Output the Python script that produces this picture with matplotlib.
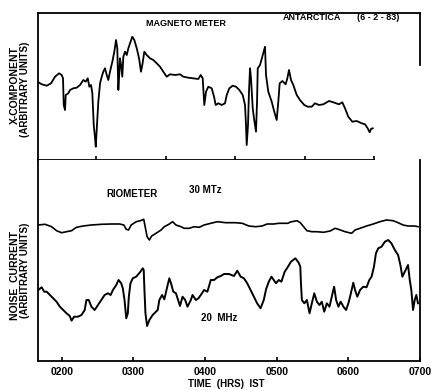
import matplotlib
matplotlib.use("Agg")
import matplotlib.pyplot as plt
from matplotlib import font_manager

# magnetometer X-component (time in hours IST, arbitrary units)
mag_time = [0.165, 0.219, 0.291, 0.353, 0.410, 0.468, 0.506, 0.525, 0.535, 0.554,
            0.564, 0.601, 0.626, 0.673, 0.722, 0.770, 0.817, 0.852, 0.881, 0.904,
            0.928, 0.947, 0.967, 0.986, 0.996, 1.014, 1.033, 1.058, 1.082, 1.105,
            1.129, 1.154, 1.177, 1.201, 1.235, 1.263, 1.288, 1.306, 1.321, 1.331,
            1.345, 1.360, 1.378, 1.393, 1.417, 1.442, 1.465, 1.489, 1.522, 1.551,
            1.586, 1.619, 1.647, 1.666, 1.695, 1.729, 1.777, 1.824, 1.873, 1.921,
            1.968, 2.017, 2.065, 2.137, 2.209, 2.256, 2.328, 2.400, 2.472, 2.506,
            2.535, 2.558, 2.583, 2.616, 2.665, 2.698, 2.722, 2.760, 2.809, 2.856,
            2.881, 2.918, 2.967, 3.014, 3.062, 3.111, 3.144, 3.158, 3.168, 3.187,
            3.201, 3.216, 3.230, 3.255, 3.273, 3.302, 3.317, 3.327, 3.360, 3.399,
            3.432, 3.446, 3.479, 3.528, 3.565, 3.600, 3.623, 3.643, 3.681, 3.729,
            3.753, 3.777, 3.806, 3.839, 3.888, 3.935, 3.997, 4.046, 4.104, 4.151,
            4.209, 4.271, 4.353, 4.414, 4.496, 4.544, 4.583, 4.630, 4.688, 4.751,
            4.823, 4.871, 4.909, 4.938, 4.957, 4.981]
mag_x = [78, 75.7, 74.3, 76.7, 83.3, 86.7, 85, 81.7, 55, 50,
         65, 66.7, 70, 71.7, 72.3, 75, 80, 78.3, 81.7, 73.3,
         75, 66.7, 35, 21.7, 13.3, 35, 58.3, 76.7, 83.3, 88.3,
         91.7, 85, 80, 88.3, 98.3, 108.3, 120, 111.7, 70, 81.7,
         101.7, 95, 83.3, 103.3, 108.3, 105, 111.7, 116.7, 123.3, 120,
         111.7, 101.7, 88.3, 95, 108.3, 105, 101.7, 100, 96.7, 93.3,
         88.3, 83.3, 85.7, 85, 85.7, 83.3, 82.3, 81.7, 81, 85,
         81.7, 55, 68.3, 73.3, 71.7, 63.3, 55, 56.7, 55, 56.7,
         65, 71.7, 74.3, 73.3, 70, 65, 55, 35, 15, 35,
         68.3, 91.7, 81.7, 51.7, 41.7, 28.3, 58.3, 91.7, 95, 105,
         113.3, 85, 68.3, 58.3, 48.3, 40, 58.3, 76.7, 79, 75.7,
         81.7, 90, 80, 75, 65, 60, 55, 53.3, 53.3, 56.7,
         55, 55.7, 59, 57.7, 55.7, 57.7, 51.7, 43.3, 38.3, 39,
         36.7, 35.7, 31.7, 27.7, 31, 31.7]

# riometer noise current, 30 MHz
rio30_time = [1.667, 1.764, 1.857, 1.926, 1.996, 2.065, 2.135, 2.204, 2.296, 2.413,
              2.551, 2.690, 2.806, 2.865, 2.899, 2.931, 2.968, 3.038, 3.097, 3.143,
              3.163, 3.190, 3.222, 3.254, 3.315, 3.385, 3.431, 3.500, 3.546, 3.593,
              3.663, 3.708, 3.778, 3.847, 3.917, 3.986, 4.079, 4.171, 4.288, 4.426,
              4.518, 4.611, 4.704, 4.796, 4.865, 4.958, 5.028, 5.157, 5.190, 5.282,
              5.329, 5.375, 5.421, 5.490, 5.560, 5.653, 5.746, 5.815, 5.861, 5.954,
              6.046, 6.093, 6.163, 6.254, 6.347, 6.440, 6.532, 6.625, 6.694, 6.764,
              6.833, 6.926, 6.972]
rio30 = [136, 136.7, 134.3, 130.3, 128.3, 129.3, 130.3, 133.7, 135, 136,
         136.7, 137, 137, 136, 131.7, 131, 136, 139.3, 140.3, 141.7,
         134.3, 124.3, 121, 125, 127.7, 131, 134.3, 137, 139.3, 136,
         134.3, 132.7, 132.7, 134.3, 133.7, 136, 137.7, 139.3, 138.3, 138.3,
         137.7, 135, 134.3, 135, 137, 137, 137.7, 137.7, 139, 140.3,
         138.3, 134.3, 130.3, 129.3, 129.3, 128.7, 130, 132.7, 131.7, 129.3,
         127.7, 131, 132.7, 135, 137, 139.3, 141, 140.3, 138.3, 136,
         135, 135, 134.3]

# riometer noise current, 20 MHz
rio20_time = [1.671, 1.718, 1.754, 1.788, 1.833, 1.879, 1.926, 1.972, 2.018, 2.065,
              2.111, 2.135, 2.171, 2.226, 2.274, 2.319, 2.343, 2.375, 2.413, 2.458,
              2.504, 2.551, 2.597, 2.643, 2.681, 2.713, 2.760, 2.792, 2.829, 2.851,
              2.875, 2.899, 2.921, 2.935, 2.958, 2.990, 3.038, 3.097, 3.129, 3.143,
              3.153, 3.167, 3.190, 3.222, 3.268, 3.338, 3.361, 3.399, 3.431, 3.463,
              3.500, 3.524, 3.556, 3.593, 3.629, 3.649, 3.685, 3.722, 3.754, 3.801,
              3.824, 3.871, 3.907, 3.940, 3.986, 4.032, 4.079, 4.125, 4.171, 4.218,
              4.264, 4.333, 4.403, 4.449, 4.496, 4.542, 4.588, 4.635, 4.681, 4.726,
              4.774, 4.819, 4.851, 4.889, 4.926, 4.958, 4.990, 5.028, 5.065, 5.111,
              5.143, 5.199, 5.260, 5.306, 5.329, 5.338, 5.351, 5.385, 5.421, 5.458,
              5.490, 5.524, 5.560, 5.597, 5.629, 5.663, 5.699, 5.736, 5.768, 5.801,
              5.829, 5.861, 5.893, 5.931, 5.968, 6.000, 6.024, 6.069, 6.093, 6.125,
              6.163, 6.208, 6.254, 6.292, 6.324, 6.357, 6.385, 6.417, 6.463, 6.510,
              6.556, 6.601, 6.649, 6.694, 6.726, 6.754, 6.788, 6.833, 6.857, 6.879,
              6.903, 6.926, 6.949, 6.972]
rio20 = [71, 73.7, 69.3, 69.3, 66, 62.7, 59.3, 54.3, 51, 47.7,
         45, 40.3, 44.3, 44.3, 46, 51, 61, 61, 54.3, 51,
         56, 61, 66, 67.7, 66, 71, 76, 81, 77.7, 72.7,
         61, 42.7, 47.7, 64.3, 77.7, 82.7, 84.3, 89.3, 92.7, 91,
         71, 47.7, 35, 41, 46, 51, 61, 66, 61.7, 71.7,
         82.7, 77.7, 69.3, 67.7, 59.3, 55, 64.3, 61, 54.3, 61,
         66, 61, 62.7, 66, 71, 69.3, 81, 81, 83.7, 85,
         87, 87, 85, 90.3, 84.3, 82.7, 77.7, 71, 64.3, 57.7,
         52.7, 61, 71.7, 79.3, 84.3, 81, 77.7, 81, 79.3, 89.3,
         92.7, 99.3, 102.7, 98.3, 94.3, 77.7, 61, 57.7, 61, 47.7,
         57.7, 67.7, 59.3, 56, 59.3, 49.3, 57.7, 54.3, 64.3, 74.3,
         61, 54.3, 59.3, 54.3, 51, 57.7, 64.3, 78.3, 71, 64.3,
         71, 74.3, 73.7, 81, 84.3, 94.3, 107.7, 112.7, 114.3, 119.3,
         121, 117.7, 111, 106, 96, 84.3, 89.3, 96, 81, 71,
         51, 61, 66, 57.7]

top_ticks = [1, 2, 3, 4, 5]
top_labels = ["0100", "0200", "0300", "0400", "0500"]
bot_ticks = [2, 3, 4, 5, 6, 7]
bot_labels = ["0200", "0300", "0400", "0500", "0600", "0700"]

installed = {f.name for f in font_manager.fontManager.ttflist}
narrow = "Liberation Sans Narrow" if "Liberation Sans Narrow" in installed else "Liberation Sans"
plt.rcParams["font.family"] = ["Liberation Sans", "DejaVu Sans"]
plt.rcParams["font.weight"] = "bold"

W, H = 435, 390


def fx(px):
    return px / W


def fy(py):
    return 1 - py / H


fig = plt.figure(figsize=(W / 100, H / 100), dpi=100)
ax1 = fig.add_axes([fx(38), fy(160), fx(420) - fx(38), fy(13) - fy(160)])
ax2 = fig.add_axes([fx(38), fy(361), fx(420) - fx(38), fy(160) - fy(361)])

# top panel: magnetometer
ax1.plot(mag_time, mag_x, color="black", lw=1.3)
ax1.set_xlim(0.165, 5.662)
ax1.set_ylim(0, 147)
ax1.set_xticks(top_ticks)
ax1.set_xticklabels(top_labels)
ax1.set_yticks([])
ax1.spines["bottom"].set_bounds(0.165, 5.0)
ax1.spines["right"].set_bounds(95, 147)
ax1.tick_params(axis="x", direction="in", length=3, width=1.2, pad=2,
                labelsize=7.5)

# bottom panel: riometer
ax2.plot(rio30_time, rio30, color="black", lw=1.2)
ax2.plot(rio20_time, rio20, color="black", lw=1.4)
ax2.set_xlim(1.667, 7.0)
ax2.set_ylim(0, 201)
ax2.set_xticks(bot_ticks)
ax2.set_xticklabels(bot_labels)
ax2.set_yticks([])
ax2.spines["top"].set_visible(False)
ax2.tick_params(axis="x", direction="in", length=3, width=1.2, pad=4,
                labelsize=7.5)

for ax in (ax1, ax2):
    for s in ax.spines.values():
        s.set_linewidth(1.3)
    for lab in ax.get_xticklabels():
        lab.set_fontweight("bold")

# annotations
fig.text(fx(186), fy(23), "MAGNETO METER", fontsize=6.5, weight="bold",
         ha="center", va="center")
fig.text(fx(312), fy(18), "ANTARCTICA", fontsize=6.5, weight="bold",
         ha="center", va="center")
fig.text(fx(378), fy(18), "(6 - 2 - 83)", fontsize=6.5, weight="bold",
         ha="center", va="center")
fig.text(fx(132), fy(194), "RIOMETER", fontsize=7, weight="bold",
         ha="center", va="center")
fig.text(fx(205), fy(190), "30 MTz", fontsize=7, weight="bold",
         ha="center", va="center")
fig.text(fx(219), fy(318), "20  MHz", fontsize=7, weight="bold",
         ha="center", va="center")
fig.text(fx(226), fy(384), "TIME  (HRS)  IST", fontsize=7, weight="bold",
         ha="center", va="center")

fig.text(fx(15), fy(85), "X-COMPONENT", family=[narrow, "DejaVu Sans"],
         fontsize=7.5, weight="bold", rotation=90, ha="center", va="center")
fig.text(fx(25.5), fy(89), "(ARBITRARY UNITS)", fontsize=7, weight="bold",
         rotation=90, ha="center", va="center")
fig.text(fx(15), fy(275), "NOISE  CURRENT", family=[narrow, "DejaVu Sans"],
         fontsize=7.5, weight="bold", rotation=90, ha="center", va="center")
fig.text(fx(25.5), fy(270), "(ARBITRARY UNITS)", fontsize=7, weight="bold",
         rotation=90, ha="center", va="center")

fig.savefig("out.png", dpi=100)
